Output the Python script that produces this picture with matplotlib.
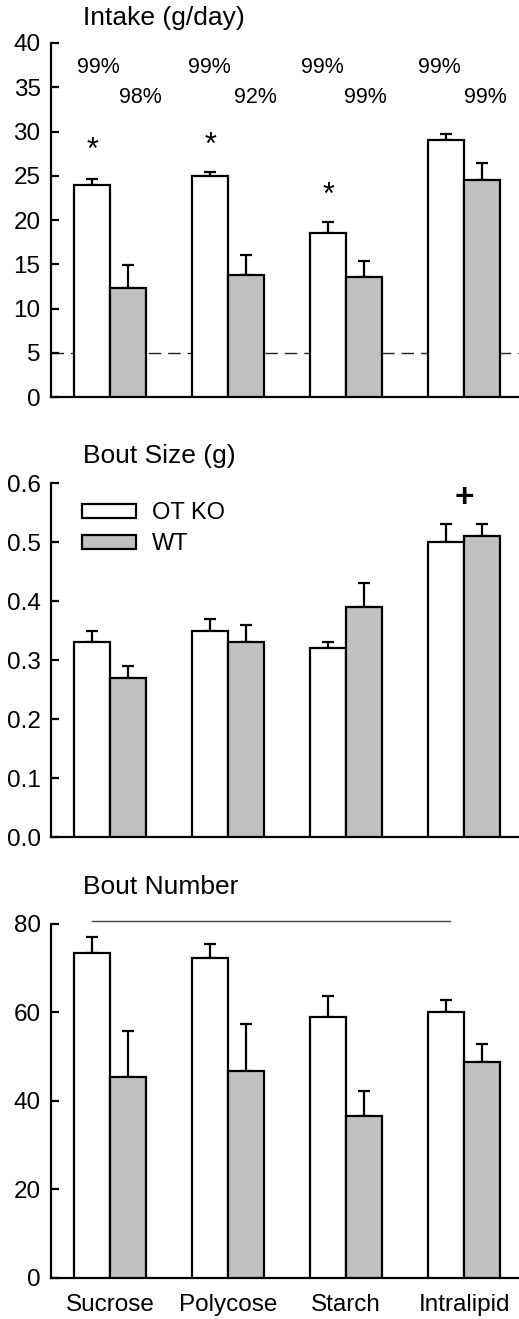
import numpy as np
import matplotlib
matplotlib.use("Agg")
import matplotlib.pyplot as plt

plt.rcParams['font.family'] = ['Liberation Sans', 'DejaVu Sans']

foods = ["Sucrose", "Polycose", "Starch", "Intralipid"]
groups = ["OT KO", "WT"]

# Intake (g/day)
intake_ko = [24.0, 25.0, 18.5, 29.0]
intake_ko_err = [0.6, 0.4, 1.3, 0.75]
intake_wt = [12.3, 13.8, 13.6, 24.5]
intake_wt_err = [2.6, 2.3, 1.8, 1.9]
pct_ko = ["99%", "99%", "99%", "99%"]
pct_wt = ["98%", "92%", "99%", "99%"]
pct_ko_dx = [-0.10, -0.16, -0.20, -0.21]
pct_wt_dx = [0.26, 0.23, 0.16, 0.18]
star_y = [28.5, 29.1, 23.4]

# Bout size (g)
size_ko = [0.33, 0.35, 0.32, 0.50]
size_ko_err = [0.02, 0.02, 0.01, 0.03]
size_wt = [0.27, 0.33, 0.39, 0.51]
size_wt_err = [0.02, 0.03, 0.04, 0.02]

# Bout number
num_ko = [73.4, 72.2, 58.9, 60.0]
num_ko_err = [3.7, 3.2, 4.8, 2.9]
num_wt = [45.5, 46.8, 36.6, 48.7]
num_wt_err = [10.3, 10.5, 5.7, 4.2]

grey = '#c0c0c0'
w = 0.305
x = np.arange(len(foods))

fig = plt.figure(figsize=(5.19, 13.19), dpi=100)

def panel(bottom, ko, ko_err, wt, wt_err, ylim, yticks, fmt, title, title_y):
    ax = fig.add_axes([0.0983, bottom, 0.9017, 0.2684])
    ax.bar(x - w/2, ko, w, color='white', edgecolor='black', linewidth=1.6, zorder=3)
    ax.bar(x + w/2, wt, w, color=grey, edgecolor='black', linewidth=1.6, zorder=3)
    ax.errorbar(x - w/2, ko, yerr=[np.zeros(4), ko_err], fmt='none', ecolor='black',
                elinewidth=1.6, capsize=4.5, capthick=1.6, zorder=2)
    ax.errorbar(x + w/2, wt, yerr=[np.zeros(4), wt_err], fmt='none', ecolor='black',
                elinewidth=1.6, capsize=4.5, capthick=1.6, zorder=2)
    ax.set_xlim(-0.5, 3.466)
    ax.set_ylim(*ylim)
    ax.set_yticks(yticks)
    ax.set_yticklabels([fmt.format(t) for t in yticks], fontsize=17.5)
    ax.set_xticks([])
    for s in ['top', 'right']:
        ax.spines[s].set_visible(False)
    ax.spines['left'].set_linewidth(1.6)
    ax.spines['bottom'].set_linewidth(1.6)
    ax.tick_params(axis='y', direction='in', length=6, width=1.6, pad=7.5)
    ax.text(0.068, title_y, title, transform=ax.transAxes, fontsize=19,
            ha='left', va='center')
    return ax

ax1 = panel(0.699, intake_ko, intake_ko_err, intake_wt, intake_wt_err,
            (0, 40), [0, 5, 10, 15, 20, 25, 30, 35, 40], '{:g}',
            "Intake (g/day)", 1.07)
ax1.axhline(5, color='#222222', linewidth=1.0, dashes=(9, 5), zorder=1)
for i in range(4):
    ax1.text(x[i] + pct_ko_dx[i], 37.2, pct_ko[i], ha='center', va='center', fontsize=15.5)
    ax1.text(x[i] + pct_wt_dx[i], 33.8, pct_wt[i], ha='center', va='center', fontsize=15.5)
for i in range(3):
    ax1.annotate('*', (x[i] - w/2, star_y[i]), xytext=(0, -4.5), textcoords='offset points',
                 ha='center', va='center', fontsize=22)

ax2 = panel(0.3654, size_ko, size_ko_err, size_wt, size_wt_err,
            (0, 0.6), [0, 0.1, 0.2, 0.3, 0.4, 0.5, 0.6], '{:.1f}',
            "Bout Size (g)", 1.076)
ax2.annotate('+', (x[3], 0.58), xytext=(0, -3), textcoords='offset points',
             ha='center', va='center', fontsize=24, fontweight='bold')
ax2.legend(groups, loc='upper left', bbox_to_anchor=(0.066, 0.945), frameon=False,
           fontsize=17, handlelength=2.3, handleheight=0.5, labelspacing=0.38,
           handletextpad=0.65, borderpad=0, borderaxespad=0)

ax3 = panel(0.0311, num_ko, num_ko_err, num_wt, num_wt_err,
            (0, 80), [0, 20, 40, 60, 80], '{:g}',
            "Bout Number", 1.105)
ax3.plot([-0.153, 2.88], [80.7, 80.7], color='#444444', linewidth=1.0, clip_on=False)
for i, f in enumerate(foods):
    ax3.text(x[i], -0.075, f, transform=ax3.get_xaxis_transform(), ha='center',
             va='center', fontsize=17.5)

fig.savefig("out.png", dpi=100)
